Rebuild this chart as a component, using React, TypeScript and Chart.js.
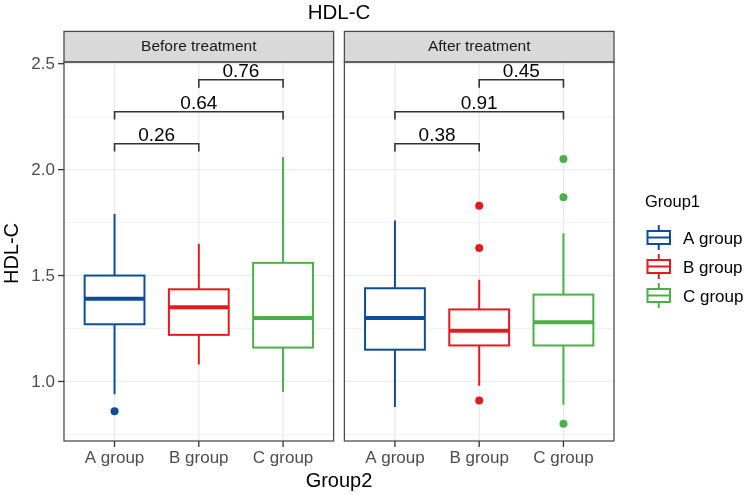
import React, { useEffect, useRef } from "react";
import { Chart, registerables } from "chart.js";

Chart.register(...registerables);

// ---------- data ----------
const categories = ["A group", "B group", "C group"];
const panels = ["Before treatment", "After treatment"];
const groupColors = ["#0E4D99", "#E41A1C", "#4DAF4A"];

// box stats: [lower whisker, Q1, median, Q3, upper whisker]
const beforeA = [0.94, 1.27, 1.39, 1.5, 1.79];
const beforeB = [1.08, 1.22, 1.35, 1.435, 1.65];
const beforeC = [0.95, 1.16, 1.3, 1.56, 2.06];
const afterA = [0.88, 1.15, 1.3, 1.44, 1.76];
const afterB = [0.98, 1.17, 1.24, 1.34, 1.48];
const afterC = [0.89, 1.17, 1.28, 1.41, 1.7];

// outliers
const beforeAOut = [0.86];
const beforeBOut: number[] = [];
const beforeCOut: number[] = [];
const afterAOut: number[] = [];
const afterBOut = [1.83, 1.63, 0.91];
const afterCOut = [2.05, 1.87, 0.8];

// comparisons (group index pairs), bracket heights and p labels
const comparePairs = [
  [0, 1],
  [0, 2],
  [1, 2],
];
const bracketLevels = [2.122, 2.273, 2.424];
const beforeP = ["0.26", "0.64", "0.76"];
const afterP = ["0.38", "0.91", "0.45"];

const yTicks = [1.0, 1.5, 2.0, 2.5];
const yMinor = [0.75, 1.25, 1.75, 2.25];

const titleText = "HDL-C";
const yTitle = "HDL-C";
const xTitle = "Group2";
const legendTitle = "Group1";

// ---------- layout constants ----------
const Y_MIN = 0.719;
const Y_MAX = 2.508;
const PANEL_GAP = 0.128;
const PANEL_SPAN = 3.2;
const PANEL_OFFSET = PANEL_SPAN + PANEL_GAP;
const BOX_W = 0.71;
const FONT = "'Liberation Sans', Arial, Helvetica, sans-serif";

const boxStats = [
  [beforeA, beforeB, beforeC],
  [afterA, afterB, afterC],
];
const outliers = [
  [beforeAOut, beforeBOut, beforeCOut],
  [afterAOut, afterBOut, afterCOut],
];
const pLabels = [beforeP, afterP];

const catX = (pi: number, ci: number) => ci + 1 + pi * PANEL_OFFSET;

const facetPlugin = {
  id: "facetBox",
  beforeDatasetsDraw(chart: any) {
    const { ctx, chartArea, scales } = chart;
    const x = scales.x;
    const y = scales.y;
    const top = chartArea.top;
    const bottom = chartArea.bottom;
    ctx.save();
    panels.forEach((_p, pi) => {
      const left = x.getPixelForValue(0.4 + pi * PANEL_OFFSET);
      const right = x.getPixelForValue(0.4 + PANEL_SPAN + pi * PANEL_OFFSET);
      ctx.fillStyle = "#FFFFFF";
      ctx.fillRect(left, top, right - left, bottom - top);
      // minor grid
      ctx.strokeStyle = "#EBEBEB";
      ctx.lineWidth = 0.7;
      yMinor.forEach((v) => {
        const py = y.getPixelForValue(v);
        ctx.beginPath();
        ctx.moveTo(left, py);
        ctx.lineTo(right, py);
        ctx.stroke();
      });
      // major grid
      ctx.lineWidth = 1.3;
      yTicks.forEach((v) => {
        const py = y.getPixelForValue(v);
        ctx.beginPath();
        ctx.moveTo(left, py);
        ctx.lineTo(right, py);
        ctx.stroke();
      });
      categories.forEach((_c, ci) => {
        const px = x.getPixelForValue(catX(pi, ci));
        ctx.beginPath();
        ctx.moveTo(px, top);
        ctx.lineTo(px, bottom);
        ctx.stroke();
      });
      // boxes
      boxStats[pi].forEach((s, ci) => {
        const cx = catX(pi, ci);
        const pxC = x.getPixelForValue(cx);
        const pxL = x.getPixelForValue(cx - BOX_W / 2);
        const pxR = x.getPixelForValue(cx + BOX_W / 2);
        const [lo, q1, med, q3, hi] = s.map((v: number) => y.getPixelForValue(v));
        ctx.strokeStyle = groupColors[ci];
        ctx.lineWidth = 2;
        // whiskers
        ctx.beginPath();
        ctx.moveTo(pxC, hi);
        ctx.lineTo(pxC, q3);
        ctx.moveTo(pxC, q1);
        ctx.lineTo(pxC, lo);
        ctx.stroke();
        // box
        ctx.fillStyle = "#FFFFFF";
        ctx.fillRect(pxL, q3, pxR - pxL, q1 - q3);
        ctx.strokeRect(pxL, q3, pxR - pxL, q1 - q3);
        // median
        ctx.lineWidth = 4;
        ctx.beginPath();
        ctx.moveTo(pxL, med);
        ctx.lineTo(pxR, med);
        ctx.stroke();
      });
    });
    ctx.restore();
  },
  afterDraw(chart: any) {
    const { ctx, chartArea, scales } = chart;
    const x = scales.x;
    const y = scales.y;
    const top = chartArea.top;
    const bottom = chartArea.bottom;
    ctx.save();
    // brackets
    panels.forEach((_p, pi) => {
      comparePairs.forEach((pair, k) => {
        const x1 = x.getPixelForValue(catX(pi, pair[0]));
        const x2 = x.getPixelForValue(catX(pi, pair[1]));
        const by = y.getPixelForValue(bracketLevels[k]);
        const tickEnd = y.getPixelForValue(bracketLevels[k] - 0.037);
        ctx.strokeStyle = "#333333";
        ctx.lineWidth = 1.6;
        ctx.beginPath();
        ctx.moveTo(x1, tickEnd);
        ctx.lineTo(x1, by);
        ctx.lineTo(x2, by);
        ctx.lineTo(x2, tickEnd);
        ctx.stroke();
        ctx.fillStyle = "#000000";
        ctx.font = `19px ${FONT}`;
        ctx.textAlign = "center";
        ctx.textBaseline = "alphabetic";
        ctx.fillText(pLabels[pi][k], (x1 + x2) / 2, by - 2.5);
      });
    });
    // panel borders, strips, x ticks
    panels.forEach((p, pi) => {
      const left = x.getPixelForValue(0.4 + pi * PANEL_OFFSET);
      const right = x.getPixelForValue(0.4 + PANEL_SPAN + pi * PANEL_OFFSET);
      const stripTop = top - 30.6;
      ctx.fillStyle = "#D9D9D9";
      ctx.fillRect(left, stripTop, right - left, top - stripTop);
      ctx.strokeStyle = "#4D4D4D";
      ctx.lineWidth = 1.3;
      ctx.strokeRect(left, stripTop, right - left, top - stripTop);
      ctx.strokeRect(left, top, right - left, bottom - top);
      ctx.fillStyle = "#1A1A1A";
      ctx.font = `15.5px ${FONT}`;
      ctx.textAlign = "center";
      ctx.textBaseline = "middle";
      ctx.fillText(p, (left + right) / 2, (stripTop + top) / 2 + 0.5);
      // x ticks
      categories.forEach((c, ci) => {
        const px = x.getPixelForValue(catX(pi, ci));
        ctx.strokeStyle = "#333333";
        ctx.lineWidth = 1.3;
        ctx.beginPath();
        ctx.moveTo(px, bottom);
        ctx.lineTo(px, bottom + 6);
        ctx.stroke();
        ctx.fillStyle = "#4D4D4D";
        ctx.font = `17px ${FONT}`;
        ctx.textAlign = "center";
        ctx.textBaseline = "alphabetic";
        ctx.fillText(c, px, bottom + 22);
      });
    });
    // y ticks
    const left0 = x.getPixelForValue(0.4);
    yTicks.forEach((v) => {
      const py = y.getPixelForValue(v);
      ctx.strokeStyle = "#333333";
      ctx.lineWidth = 1.3;
      ctx.beginPath();
      ctx.moveTo(left0 - 6, py);
      ctx.lineTo(left0, py);
      ctx.stroke();
      ctx.fillStyle = "#4D4D4D";
      ctx.font = `17px ${FONT}`;
      ctx.textAlign = "right";
      ctx.textBaseline = "middle";
      ctx.fillText(v.toFixed(1), left0 - 9, py + 1);
    });
    // titles
    const right1 = x.getPixelForValue(0.4 + PANEL_SPAN + PANEL_OFFSET);
    const midX = (left0 + right1) / 2;
    ctx.fillStyle = "#000000";
    ctx.font = `20.5px ${FONT}`;
    ctx.textAlign = "center";
    ctx.textBaseline = "alphabetic";
    ctx.fillText(titleText, midX, 18.5);
    ctx.font = `20px ${FONT}`;
    ctx.fillText(xTitle, midX, 487);
    ctx.save();
    ctx.translate(12, (top + bottom) / 2 + 2);
    ctx.rotate(-Math.PI / 2);
    ctx.textBaseline = "middle";
    ctx.fillText(yTitle, 0, 0);
    ctx.restore();
    // legend
    const lx = 645;
    ctx.textAlign = "left";
    ctx.textBaseline = "alphabetic";
    ctx.font = `16.5px ${FONT}`;
    ctx.fillStyle = "#000000";
    ctx.fillText(legendTitle, lx, 206.5);
    categories.forEach((c, ci) => {
      const cy = 237.5 + ci * 29;
      const col = groupColors[ci];
      const bl = 647.5;
      const bw = 22.5;
      const bh = 13;
      ctx.strokeStyle = col;
      ctx.lineWidth = 2;
      ctx.beginPath();
      ctx.moveTo(bl + bw / 2, cy - bh / 2 - 6);
      ctx.lineTo(bl + bw / 2, cy - bh / 2);
      ctx.moveTo(bl + bw / 2, cy + bh / 2);
      ctx.lineTo(bl + bw / 2, cy + bh / 2 + 6);
      ctx.stroke();
      ctx.strokeRect(bl, cy - bh / 2, bw, bh);
      ctx.beginPath();
      ctx.moveTo(bl, cy);
      ctx.lineTo(bl + bw, cy);
      ctx.stroke();
      ctx.fillStyle = "#000000";
      ctx.font = `17px ${FONT}`;
      ctx.fillText(c, 683, cy + 6);
    });
    ctx.restore();
  },
};

export default function App() {
  const ref = useRef<HTMLCanvasElement | null>(null);
  useEffect(() => {
    if (!ref.current) return;
    const datasets = categories.map((c, ci) => ({
      label: c,
      data: panels.flatMap((_p, pi) =>
        outliers[pi][ci].map((v) => ({ x: catX(pi, ci), y: v }))
      ),
      backgroundColor: groupColors[ci],
      borderColor: groupColors[ci],
      borderWidth: 0,
      pointRadius: 4,
      pointHoverRadius: 4,
    }));
    const chart = new Chart(ref.current, {
      type: "scatter",
      data: { datasets },
      options: {
        responsive: false,
        animation: false,
        events: [],
        layout: { padding: { left: 64, right: 135, top: 62, bottom: 54 } },
        scales: {
          x: { type: "linear", min: 0.4, max: 0.4 + PANEL_SPAN * 2 + PANEL_GAP, display: false },
          y: { type: "linear", min: Y_MIN, max: Y_MAX, display: false },
        },
        plugins: {
          legend: { display: false },
          tooltip: { enabled: false },
          title: { display: false },
        },
      },
      plugins: [facetPlugin],
    } as any);
    return () => chart.destroy();
  }, []);
  return (
    <div style={{ position: "absolute", left: 0, top: 0, width: 749, height: 495, background: "#fff" }}>
      <canvas ref={ref} width={749} height={495} />
    </div>
  );
}
